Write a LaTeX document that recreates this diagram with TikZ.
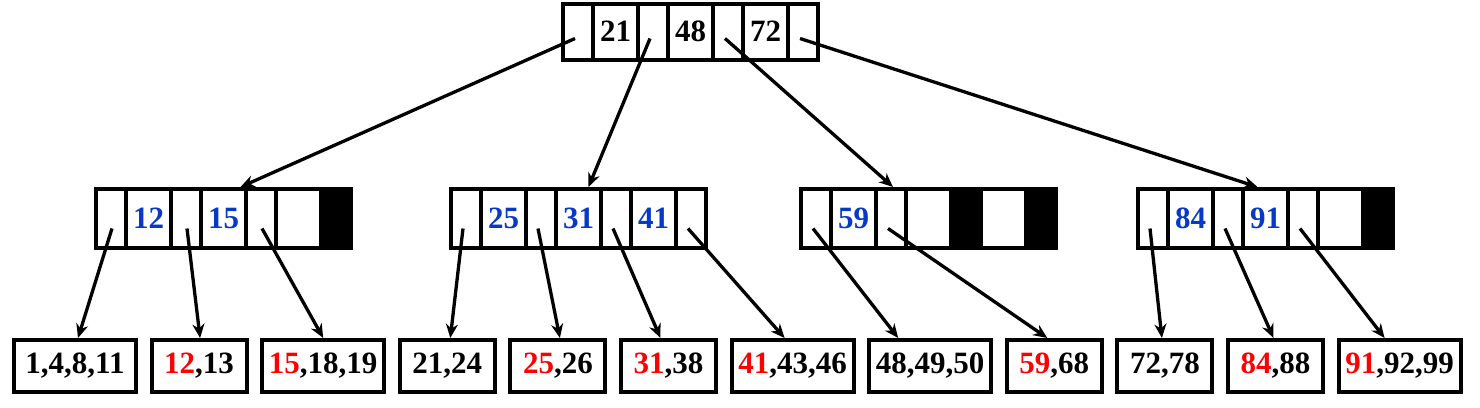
\documentclass[tikz,border=0pt]{standalone}
\usepackage{fontspec}
\setmainfont{Liberation Serif}
\usepackage{xcolor}
\usepackage{tikz}
\usetikzlibrary{positioning, arrows.meta}
\definecolor{keyblue}{RGB}{8,56,200}

\begin{document}
\begin{tikzpicture}[
  x=1pt, y=-1pt,
  >={Stealth[length=14pt, width=12pt]},
  every node/.style={font=\fontsize{31}{36}\selectfont\bfseries}
]
\tikzset{
  cell/.style  ={draw=black, line width=4pt, outer sep=0pt, inner sep=0pt},
  ptr/.style   ={cell, minimum width=30pt},
  keyc/.style  ={cell, minimum width=45pt},
  idx/.style   ={keyc, text=keyblue},
  nul/.style   ={ptr, fill=black},
  rootc/.style ={minimum height=56pt},
  midc/.style  ={minimum height=59pt},
  leaf/.style  ={cell, minimum width=95pt, minimum height=52pt},
  wide/.style  ={leaf, minimum width=122pt},
  arr/.style   ={->, line width=3.3pt}
}
\useasboundingbox (0,0) rectangle (1480,407);

%% ----- Root -----
\node[ptr, rootc] (rp0) at (578,31.5) {};
\node[keyc, rootc, right=0pt of rp0] (rk1) {21};
\node[ptr,  rootc, right=0pt of rk1] (rp1) {};
\node[keyc, rootc, right=0pt of rp1] (rk2) {48};
\node[ptr,  rootc, right=0pt of rk2] (rp2) {};
\node[keyc, rootc, right=0pt of rp2] (rk3) {72};
\node[ptr,  rootc, right=0pt of rk3] (rp3) {};

%% ----- Index nodes a, b, c, d -----
\node[ptr, midc] (ap0) at (111,218.5) {};
\node[idx,  midc, right=0pt of ap0] (ak1) {12};
\node[ptr,  midc, right=0pt of ak1] (ap1) {};
\node[idx,  midc, right=0pt of ap1] (ak2) {15};
\node[ptr,  midc, right=0pt of ak2] (ap2) {};
\node[keyc, midc, right=0pt of ap2] (ak3) {};
\node[nul,  midc, right=0pt of ak3] (ap3) {};

\node[ptr, midc] (bp0) at (466,218.5) {};
\node[idx,  midc, right=0pt of bp0] (bk1) {25};
\node[ptr,  midc, right=0pt of bk1] (bp1) {};
\node[idx,  midc, right=0pt of bp1] (bk2) {31};
\node[ptr,  midc, right=0pt of bk2] (bp2) {};
\node[idx,  midc, right=0pt of bp2] (bk3) {41};
\node[ptr,  midc, right=0pt of bk3] (bp3) {};

\node[ptr, midc] (cp0) at (816,218.5) {};
\node[idx,  midc, right=0pt of cp0] (ck1) {59};
\node[ptr,  midc, right=0pt of ck1] (cp1) {};
\node[keyc, midc, right=0pt of cp1] (ck2) {};
\node[nul,  midc, right=0pt of ck2] (cp2) {};
\node[keyc, midc, right=0pt of cp2] (ck3) {};
\node[nul,  midc, right=0pt of ck3] (cp3) {};

\node[ptr, midc] (dp0) at (1153,218.5) {};
\node[idx,  midc, right=0pt of dp0] (dk1) {84};
\node[ptr,  midc, right=0pt of dk1] (dp1) {};
\node[idx,  midc, right=0pt of dp1] (dk2) {91};
\node[ptr,  midc, right=0pt of dk2] (dp2) {};
\node[keyc, midc, right=0pt of dp2] (dk3) {};
\node[nul,  midc, right=0pt of dk3] (dp3) {};

%% ----- Leaves -----
\node[wide] (l1) at (75,366) {1,4,8,11};
\node[leaf, right=15.6pt of l1]  (l2)  {{\color{red}12},13};
\node[wide, right=15.6pt of l2]  (l3)  {{\color{red}15},18,19};
\node[leaf, right=15.6pt of l3]  (l4)  {21,24};
\node[leaf, right=15.6pt of l4]  (l5)  {{\color{red}25},26};
\node[leaf, right=15.6pt of l5]  (l6)  {{\color{red}31},38};
\node[wide, right=15.6pt of l6]  (l7)  {{\color{red}41},43,46};
\node[wide, right=15.6pt of l7]  (l8)  {48,49,50};
\node[leaf, right=15.6pt of l8]  (l9)  {{\color{red}59},68};
\node[leaf, right=15.6pt of l9]  (l10) {72,78};
\node[leaf, right=15.6pt of l10] (l11) {{\color{red}84},88};
\node[wide, right=15.6pt of l11] (l12) {{\color{red}91},92,99};

%% ----- Root pointers -> index nodes -----
\foreach \src/\dst/\dx in {rp0/ak2/17, rp1/bk2/10, rp2/cp1/2, rp3/dk2/-8}
  \draw[arr] ([xshift=-3pt, yshift=-7pt]\src.center)
    -- ([xshift=\dx pt, yshift=2pt]\dst.north);

%% ----- Index pointers -> leaves -----
\foreach \src/\dst/\sx/\dx in {ap0/l1/1/3, ap1/l2/1/1, ap2/l3/1/0,
    bp0/l4/-3/3, bp1/l5/-3/2, bp2/l6/-3/-8, bp3/l7/-3/-8,
    cp0/l8/-3/-32, cp1/l9/-3/-7,
    dp0/l10/-3/-3, dp1/l11/-3/-2, dp2/l12/-3/-15}
  \draw[arr] ([xshift=\sx pt, yshift=-10pt]\src.center)
    -- ([xshift=\dx pt, yshift=2pt]\dst.north);

\end{tikzpicture}
\end{document}
